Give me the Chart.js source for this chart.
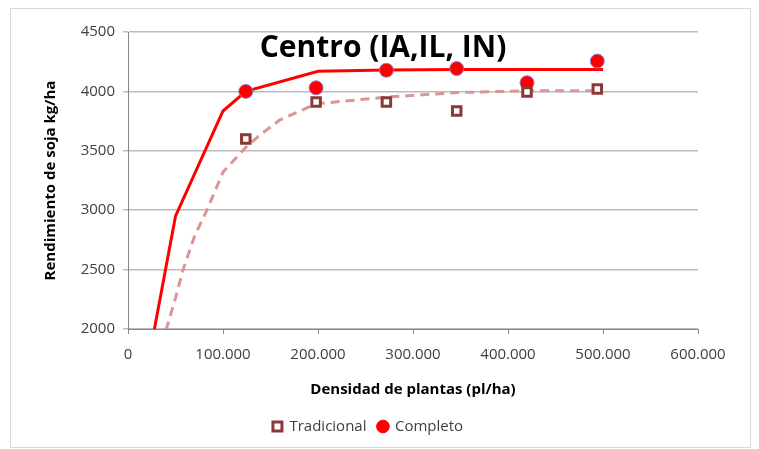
<!DOCTYPE html>
<html>
<head>
<meta charset="utf-8">
<script src="https://cdn.jsdelivr.net/npm/chart.js@4.4.1/dist/chart.umd.min.js"></script>
<style>
    body { margin: 0; background: #ffffff; }
    #wrap { position: relative; width: 759px; height: 449px; }
    #frame { position: absolute; left: 10px; top: 8px; width: 741px; height: 440px; border: 1px solid #d9d9d9; box-sizing: border-box; }
    canvas { position: absolute; left: 0; top: 0; }
</style>
</head>
<body>
<div id="wrap">
    <div id="frame"></div>
    <canvas id="sojaChart" width="759" height="449"></canvas>
</div>
<script>
// densidad (pl/ha) de los ensayos
var densidades = [124000, 198000, 272000, 346000, 420000, 494000];
var tradicional = [3600, 3910, 3910, 3835, 3995, 4020];
var completo = [4000, 4030, 4178, 4192, 4073, 4255];

// curvas de ajuste
var curvaCompletoX = [25000, 50000, 100000, 124000, 200000, 272000, 346000, 420000, 500000];
var curvaCompletoY = [1880, 2950, 3835, 4000, 4170, 4180, 4184, 4184, 4184];
var curvaTradicionalX = [40000, 50000, 58000, 70000, 83000, 100000, 124000, 140000, 160000, 198000, 272000, 346000, 420000, 500000];
var curvaTradicionalY = [1990, 2260, 2500, 2780, 3000, 3320, 3530, 3640, 3760, 3895, 3952, 3990, 4005, 4005];

var xTicks = [0, 100000, 200000, 300000, 400000, 500000, 600000];
var yTicks = [2000, 2500, 3000, 3500, 4000, 4500];

var fontFamily = "'Open Sans', 'Liberation Sans', sans-serif";

function to_points(xs, ys) {
    var pts = [];
    for (var i = 0; i < xs.length; i++) {
        pts.push({ x: xs[i], y: ys[i] });
    }
    return pts;
}

function format_miles(v) {
    return String(v).replace(/\B(?=(\d{3})+(?!\d))/g, ".");
}

var titlePlugin = {
    id: "tituloInterno",
    afterDatasetsDraw: function (chart) {
        var ctx = chart.ctx;
        ctx.save();
        ctx.font = "bold 30px " + fontFamily;
        ctx.fillStyle = "#000000";
        ctx.textAlign = "center";
        ctx.textBaseline = "middle";
        ctx.fillText("Centro (IA,IL, IN)", 383, 48);
        ctx.restore();
    }
};

var config = {
    type: "scatter",
    data: {
        datasets: [
            {
                label: "Tradicional",
                data: to_points(densidades, tradicional),
                pointStyle: "rect",
                pointRadius: 6,
                pointBorderWidth: 3,
                borderColor: "#8c3836",
                backgroundColor: "#ffffff",
                order: 0
            },
            {
                label: "Completo",
                data: to_points(densidades, completo),
                pointStyle: "circle",
                pointRadius: 7,
                pointBorderWidth: 1,
                borderColor: "#8a7fd0",
                backgroundColor: "#ff0000",
                order: 0
            },
            {
                label: "curvaTradicional",
                data: to_points(curvaTradicionalX, curvaTradicionalY),
                showLine: true,
                pointRadius: 0,
                borderColor: "#d99694",
                borderWidth: 3,
                borderDash: [9, 6],
                order: 2
            },
            {
                label: "curvaCompleto",
                data: to_points(curvaCompletoX, curvaCompletoY),
                showLine: true,
                pointRadius: 0,
                borderColor: "#ff0000",
                borderWidth: 3,
                order: 1
            }
        ]
    },
    options: {
        responsive: false,
        animation: false,
        layout: {
            padding: { left: 38, right: 61, top: 32, bottom: 5 }
        },
        plugins: {
            legend: {
                position: "bottom",
                labels: {
                    usePointStyle: true,
                    boxWidth: 9,
                    boxHeight: 9,
                    padding: 12,
                    color: "#404040",
                    font: { family: fontFamily, size: 15 },
                    filter: function (item) {
                        return item.text == "Tradicional" || item.text == "Completo";
                    },
                    generateLabels: function (chart) {
                        var items = Chart.defaults.plugins.legend.labels.generateLabels(chart);
                        for (var item of items) {
                            if (item.text == "Tradicional") {
                                item.pointStyle = "rect";
                                item.lineWidth = 3;
                            } else if (item.text == "Completo") {
                                item.strokeStyle = "#ff0000";
                            }
                        }
                        return items;
                    }
                }
            },
            tooltip: { enabled: false }
        },
        scales: {
            x: {
                type: "linear",
                min: 0,
                max: 600000,
                afterBuildTicks: function (scale) {
                    scale.ticks = xTicks.map(function (v) { return { value: v }; });
                },
                afterFit: function (scale) {
                    scale.height = 78;
                },
                ticks: {
                    color: "#404040",
                    padding: 12,
                    maxRotation: 0,
                    font: { family: fontFamily, size: 15 },
                    callback: function (v) { return format_miles(v); }
                },
                grid: {
                    drawOnChartArea: false,
                    drawTicks: true,
                    tickLength: 5,
                    color: "#868686"
                },
                border: { color: "#868686" },
                title: {
                    display: true,
                    text: "Densidad de plantas (pl/ha)",
                    color: "#000000",
                    font: { family: fontFamily, size: 15, weight: "bold" },
                    padding: { top: 4, bottom: 8 }
                }
            },
            y: {
                min: 2000,
                max: 4500,
                afterBuildTicks: function (scale) {
                    scale.ticks = yTicks.map(function (v) { return { value: v }; });
                },
                afterFit: function (scale) {
                    scale.width = 90;
                },
                ticks: {
                    color: "#404040",
                    padding: 8,
                    font: { family: fontFamily, size: 15 },
                    callback: function (v) { return String(v); }
                },
                grid: {
                    color: "#bcbcbc",
                    lineWidth: 1.5,
                    tickLength: 5
                },
                border: { color: "#868686" },
                title: {
                    display: true,
                    text: "Rendimiento de soja kg/ha",
                    color: "#000000",
                    font: { family: fontFamily, size: 15, weight: "bold" },
                    padding: { bottom: 6 }
                }
            }
        }
    },
    plugins: [titlePlugin]
};

var sojaChart = new Chart("sojaChart", config);
</script>
</body>
</html>
